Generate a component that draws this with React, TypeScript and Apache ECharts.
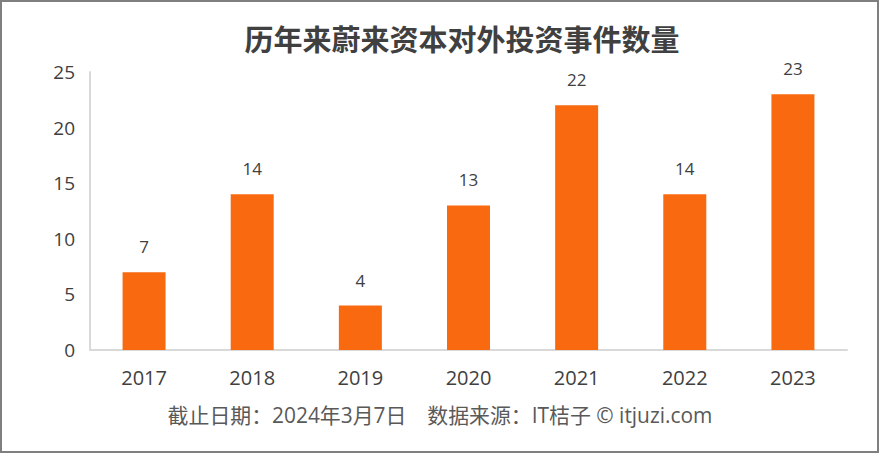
import React, { useEffect, useRef } from "react";
import * as echarts from "echarts";

const categories = ["2017", "2018", "2019", "2020", "2021", "2022", "2023"];
const values = [7, 14, 4, 13, 22, 14, 23];
const yTicks = [0, 5, 10, 15, 20, 25];
const titleText = "历年来蔚来资本对外投资事件数量";
const footerText = "截止日期：2024年3月7日　数据来源：IT桔子 © itjuzi.com";

const FONT = '"Open Sans", "Noto Sans CJK SC", sans-serif';

export default function App() {
  const ref = useRef<HTMLDivElement>(null);
  useEffect(() => {
    if (!ref.current) return;
    const chart = echarts.init(ref.current, null, { renderer: "svg" });
    chart.setOption({
      animation: false,
      backgroundColor: "#ffffff",
      title: {
        text: titleText,
        left: 457,
        top: 18,
        textAlign: "center",
        textStyle: {
          fontFamily: '"Noto Sans CJK SC", sans-serif',
          fontSize: 29,
          fontWeight: "bold",
          color: "#404040",
        },
      },
      grid: { left: 90, right: 32, top: 72, bottom: 103, containLabel: false },
      xAxis: {
        type: "category",
        data: categories,
        axisLine: { show: true, lineStyle: { color: "#d9d9d9", width: 2 } },
        axisTick: { show: false },
        axisLabel: {
          margin: 17,
          fontFamily: FONT,
          fontSize: 20,
          color: "#404040",
        },
      },
      yAxis: {
        type: "value",
        min: yTicks[0],
        max: yTicks[yTicks.length - 1],
        interval: 5,
        axisLine: { show: true, lineStyle: { color: "#d9d9d9", width: 2 } },
        axisTick: { show: false },
        splitLine: { show: false },
        axisLabel: {
          margin: 15,
          fontFamily: FONT,
          fontSize: 19,
          color: "#404040",
        },
      },
      series: [
        {
          type: "bar",
          data: values,
          barWidth: 43,
          itemStyle: { color: "#F96A10" },
          label: {
            show: true,
            position: "top",
            distance: 17,
            fontFamily: FONT,
            fontSize: 17,
            color: "#404040",
          },
        },
      ],
      graphic: [
        {
          type: "text",
          x: 440,
          y: 415,
          style: {
            text: footerText,
            fontFamily: FONT,
            fontSize: 20.9,
            fill: "#595959",
            textAlign: "center",
            textVerticalAlign: "middle",
          },
        },
        {
          type: "rect",
          shape: { x: 1, y: 1, width: 877, height: 451 },
          style: { fill: "none", stroke: "#7f7f7f", lineWidth: 2 },
          silent: true,
        },
      ],
    });
    return () => chart.dispose();
  }, []);
  return (
    <div
      ref={ref}
      style={{ position: "fixed", left: 0, top: 0, width: 879, height: 453 }}
    />
  );
}
